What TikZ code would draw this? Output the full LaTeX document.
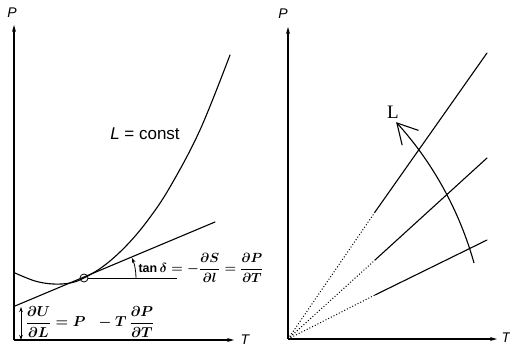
\documentclass[tikz,border=0pt]{standalone}
\usepackage{amsmath,amssymb}
\usepackage{fontspec}
\setmainfont{Liberation Sans}
\newfontfamily\serifL{Liberation Serif}
\usetikzlibrary{arrows.meta,positioning}
\tikzset{
  axis/.style   ={line width=1.2pt,-{Stealth[length=7pt,width=4pt]}},
  crv/.style    ={line width=1.1pt,line cap=round},
  thin/.style   ={line width=0.8pt},
  dotln/.style  ={line width=1pt,dotted},
  axlbl/.style  ={font=\fontsize{14}{16}\selectfont\itshape,inner sep=0pt},
  formula/.style={font=\fontsize{13.5}{15}\selectfont\boldmath,inner sep=0pt},
  ann/.style    ={inner sep=0pt},
}

\begin{document}
\begin{tikzpicture}[
    x=1pt, y=-1pt, % picture coordinates, y downwards
    >=Stealth
]
\useasboundingbox (0,0) rectangle (510,352);

% Left panel: axes
\coordinate (O1) at (14,340);
\coordinate (ytop1) at (14,25);
\coordinate (xend1) at (234,340);
\node[axlbl] (P1) at (12,13) {P};
\node[axlbl] (T1) at (245,340) {T};
\draw[axis] (O1) -- (ytop1);
\draw[axis] (O1) -- (xend1);

% Curve L = const and its tangent
\draw[crv] plot[smooth,tension=0.6] coordinates
  {(15,273) (35,281) (53,284) (70,283) (84,278) (105,265) (127,245)
   (148,220) (170,187) (200,130) (230,55)};
\node[ann,font=\fontsize{17}{19}\selectfont] (Lc) at (145,134) {\textit{L} = const};
\node[circle,draw,line width=0.8pt,minimum size=8pt,inner sep=0pt] (tp) at (84,278) {};
\coordinate (tg0) at (15,306);
\coordinate (tg1) at (215,222);
\coordinate (hz) at (177,278);
\draw[crv] (tg0) -- (tg1);
\draw[thin] (tp.east) -- (hz);
\draw[thin,-{Stealth[length=5pt,width=3.5pt]}] (136,278) arc[start angle=0,end angle=-22.8,radius=52];
\node[formula,scale=0.92,transform shape] (tand) at (201,268)
  {$\tan\delta = -\dfrac{\partial S}{\partial l} = \dfrac{\partial P}{\partial T}$};

% Intercept on the P axis
\coordinate (ia) at (21,307);
\coordinate (ib) at (21,340);
\draw[thin,{Stealth[length=5pt,width=3.5pt]}-{Stealth[length=5pt,width=3.5pt]}] (ia) -- (ib);
\node[formula] (dUdL) at (90,322)
  {$\dfrac{\partial U}{\partial L} = P \;\;- T\,\dfrac{\partial P}{\partial T}$};

% Right panel: axes
\coordinate (O2) at (288,339);
\coordinate (ytop2) at (288,27);
\coordinate (xend2) at (497,339);
\node[axlbl] (P2) at (283,14) {P};
\node[axlbl] (T2) at (506,338) {T};
\draw[axis] (O2) -- (ytop2);
\draw[axis] (O2) -- (xend2);

% Isolines, dotted towards the origin
\foreach \s/\e [count=\i] in {212/53, 260/158, 295/240} {
  \coordinate (a\i) at (375,\s);
  \coordinate (b\i) at (487,\e);
  \draw[dotln] (O2) -- (a\i);
  \draw[crv] (a\i) -- (b\i);
}

% Direction of increasing L
\draw[line width=1.1pt,-{Straight Barb[length=20pt,width=22pt,line width=1.1pt]}]
  (474,263) arc[start angle=-15.65,end angle=-42.24,radius=350];
\node[ann,font=\fontsize{19}{21}\selectfont\serifL] (Ldir) at (393,112) {L};

\end{tikzpicture}
\end{document}
